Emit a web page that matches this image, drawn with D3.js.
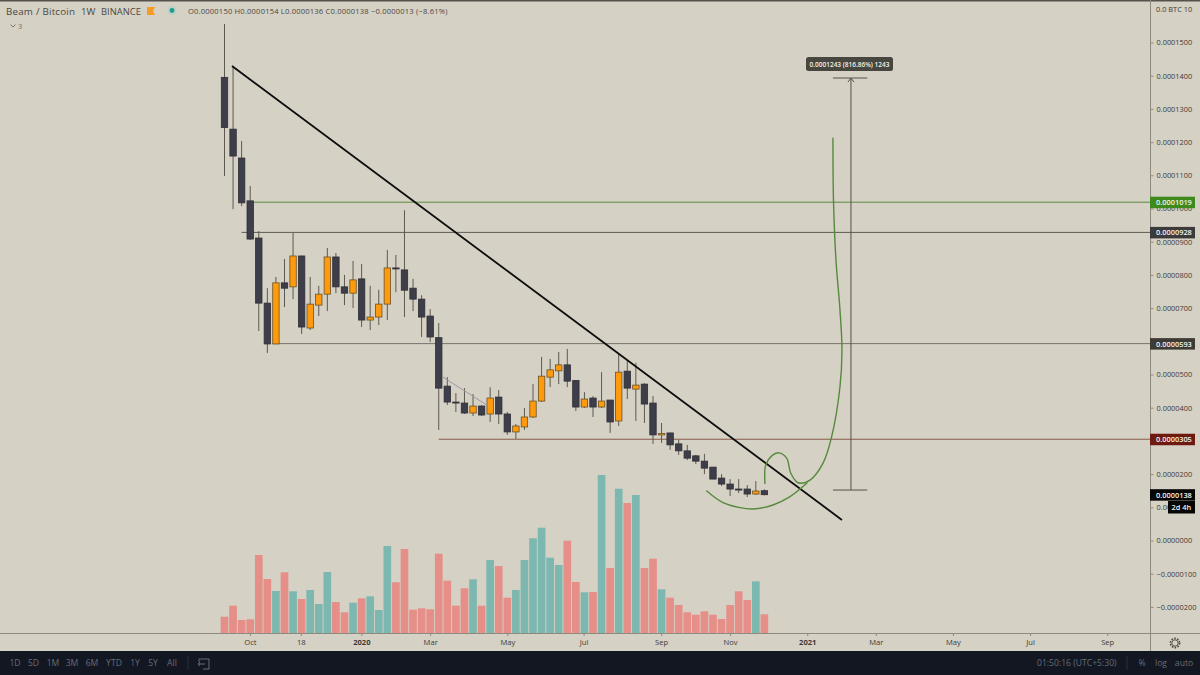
<!DOCTYPE html>
<html><head><meta charset="utf-8">
<script src="https://cdnjs.cloudflare.com/ajax/libs/d3/7.8.5/d3.min.js"></script>
<style>
html,body{margin:0;padding:0;background:#d6d1c5;overflow:hidden}
svg{display:block}
text{font-family:"Open Sans",Roboto,sans-serif}
</style></head><body><svg id="c" width="1200" height="675"></svg>
<script>
// Weekly candles, in units of 0.0000001 BTC
const opens  = [1395,1239,1152,1023,911,715,592,776,764,857,640,709,742,854,764,745,788,664,673,712,821,815,760,727,676,611,465,417,414,384,405,381,432,381,327,342,372,420,492,511,529,482,402,429,402,423,360,510,456,471,414,318,324,291,270,255,239,221,188,170,155,155,140,150];
const highs  = [1556,1429,1203,1068,932,760,794,848,926,858,794,767,881,866,800,842,833,767,755,875,860,995,788,739,697,655,492,444,459,441,408,462,453,387,351,399,471,553,547,568,577,483,447,435,507,423,562,541,535,474,435,354,324,303,288,258,261,221,200,185,185,167,179,154];
const lows   = [1098,998,1007,905,631,565,592,703,727,622,634,676,691,745,709,700,643,634,649,664,748,673,691,613,598,333,408,387,381,375,375,357,351,318,306,333,369,417,462,471,462,390,399,372,399,324,345,426,360,354,291,294,273,258,242,230,200,185,164,134,143,131,137,136];
const closes = [1244,1158,1017,908,715,592,776,760,857,643,712,742,854,764,745,785,664,673,712,821,818,754,727,673,613,459,417,414,384,405,378,429,381,327,345,372,420,495,514,529,480,402,426,402,420,357,507,459,468,411,318,322,288,270,248,239,218,185,170,155,153,140,149,138];
const volumes = [166,276,133,140,783,543,423,610,420,343,433,293,613,313,210,306,350,370,233,873,510,843,236,250,240,796,526,276,450,540,276,733,673,356,433,733,950,1056,756,683,926,513,410,413,1583,653,1446,1303,1383,653,746,440,356,283,210,186,220,186,143,283,420,333,520,190];
const volumeRising = [0,0,0,0,0,0,1,0,1,0,1,1,1,0,0,1,0,1,1,1,0,0,0,0,0,0,0,0,0,1,0,1,0,0,1,1,1,1,1,1,0,0,1,0,1,0,1,0,1,0,0,1,0,0,0,0,0,0,0,0,0,0,1,0];

const priceTicks = [1500,1400,1300,1200,1100,1000,900,800,700,600,500,400,300,200,100,0,-100,-200];
const timeTickWeeks  = [2.97,8.9,15.97,24,33,41.9,50.95,59,68,76,85,94,103];
const timeTickLabels = ["Oct","18","2020","Mar","May","Jul","Sep","Nov","2021","Mar","May","Jul","Sep"];
const boldTimeLabels = ["2020","2021"];

const trendWeeks = [0.875,72.05];
const trendValues = [1429,62];
const faintWeeks = [25.5,30.6];
const faintValues = [492,408];
const levelValues = [1019,928,593,305];
const levelStarts = [3.3,2,5.6,25];
const levelColors = ["#5b8a3c","#5f5a52","#77736a","#8a5a48"];
const levelBoxes  = ["#3f8a1d","#3b3b3b","#3e3b36","#6e1a10"];
const curveAWeeks = [56.27,58.17,60.15,61.67,64.0,65.99,67.97];
const curveAValues = [149,114,99,95,107,132,173];
const curveBWeeks = [63.07,63.15,63.85,64.7,65.6,66.07,66.92,68.32,69.84,70.85,71.82,72.05,71.82,71.35,71.06,71.0];
const curveBValues = [172,227,255,264,248,203,174,182,233,313,463,574,694,845,1026,1212];
const measureWeek = 73.1, measureCapWeeks = [71,75], measureFrom = 152, measureTo = 1393;
const headerText = "O0.0000150 H0.0000154 L0.0000136 C0.0000138 −0.0000013 (−8.61%)";
const rangeButtons = ["1D","5D","1M","3M","6M","YTD","1Y","5Y","All"];
const rangeButtonX = [15,33.5,53,72,92,114,135,153,172];

const svg = d3.select("#c");
const bg = "#d6d1c5", axisCol = "#8f8a80";
svg.append("rect").attr("width",1200).attr("height",675).attr("fill",bg);
svg.append("rect").attr("width",1200).attr("height",1.5).attr("fill","#55524c");

const x = d3.scaleLinear().domain([0,63]).range([224.5,764.4]);
const y = d3.scaleLinear().domain([0,1500]).range([540.5,42.5]);
const volY = d3.scaleLinear().domain([0,1600]).range([633.3,473.3]);
const step = x(1)-x(0);
const idx = d3.range(opens.length);
const line = d3.line().x(d=>x(d[0])).y(d=>y(d[1]));
const smooth = d3.line().x(d=>x(d[0])).y(d=>y(d[1])).curve(d3.curveCatmullRom);

// volume
svg.append("g").selectAll("rect").data(idx).join("rect")
  .attr("x",i=>x(i)-step/2+0.45).attr("width",step-0.9)
  .attr("y",i=>volY(volumes[i])).attr("height",i=>volY(0)-volY(volumes[i]))
  .attr("fill",i=>volumeRising[i]?"#7db8b0":"#e58f88");

// axis frame
svg.append("line").attr("x1",0).attr("x2",1200).attr("y1",633.5).attr("y2",633.5).attr("stroke",axisCol);
svg.append("line").attr("x1",1150.5).attr("x2",1150.5).attr("y1",0).attr("y2",651).attr("stroke",axisCol);

// horizontal levels
levelValues.forEach((v,i)=>{
  svg.append("path").attr("d",line([[levelStarts[i],v],[x.invert(1150),v]]))
    .attr("fill","none").attr("stroke",levelColors[i]).attr("stroke-width",1);
});

// candles
const g = svg.append("g");
g.selectAll("line").data(idx).join("line")
  .attr("x1",i=>x(i)).attr("x2",i=>x(i))
  .attr("y1",i=>y(highs[i])).attr("y2",i=>y(lows[i]))
  .attr("stroke","#5d594f").attr("stroke-width",1);
g.selectAll("rect").data(idx).join("rect")
  .attr("x",i=>x(i)-3.2).attr("width",6.4)
  .attr("y",i=>y(Math.max(opens[i],closes[i])))
  .attr("height",i=>Math.max(1,Math.abs(y(opens[i])-y(closes[i]))))
  .attr("fill",i=>closes[i]>opens[i]?"#ff9a0d":"#3e3e4a")
  .attr("stroke",i=>closes[i]>opens[i]?"#6b5224":"#2e2e36").attr("stroke-width",0.8);

// drawings
svg.append("path").attr("d",line(d3.zip(faintWeeks,faintValues))).attr("fill","none").attr("stroke","#9d95a8").attr("stroke-width",1);
svg.append("path").attr("d",line(d3.zip(trendWeeks,trendValues))).attr("fill","none").attr("stroke","#0c0c0c").attr("stroke-width",1.8);
[[curveAWeeks,curveAValues],[curveBWeeks,curveBValues]].forEach(c=>{
  svg.append("path").attr("d",smooth(d3.zip(c[0],c[1]))).attr("fill","none").attr("stroke","#558a3c").attr("stroke-width",1.4).attr("stroke-linecap","round");
});
const mCol = "#55524c";
svg.append("path").attr("d",line([[measureWeek,measureFrom],[measureWeek,measureTo]])).attr("fill","none").attr("stroke",mCol);
[measureFrom,measureTo].forEach(v=>svg.append("path").attr("d",line([[measureCapWeeks[0],v],[measureCapWeeks[1],v]])).attr("fill","none").attr("stroke",mCol));
svg.append("path").attr("d",`M${x(measureWeek)-3},${y(measureTo)+4}L${x(measureWeek)},${y(measureTo)}L${x(measureWeek)+3},${y(measureTo)+4}`).attr("fill","none").attr("stroke",mCol);
svg.append("rect").attr("x",806).attr("y",57).attr("width",87).attr("height",14).attr("rx",2.5).attr("fill","#48473f");
svg.append("text").attr("x",849.5).attr("y",66.5).attr("text-anchor","middle").attr("fill","#f3f1ea").attr("font-size",6.5).attr("font-weight",600).text("0.0001243 (816.86%) 1243");

// price axis
const fmt = v => (v<0?"−":"")+"0."+String(Math.abs(v)).padStart(7,"0");
const ya = d3.axisRight(y).tickValues(priceTicks).tickFormat(fmt).tickSize(3).tickPadding(3);
const yg = svg.append("g").attr("transform","translate(1150.5,0)").call(ya);
yg.select(".domain").remove();
yg.selectAll("line").attr("stroke",axisCol);
yg.selectAll("text").attr("fill","#3c3a36").attr("font-size",7.4).style("font-family",'"Open Sans",sans-serif');
svg.append("text").attr("x",1156).attr("y",12).attr("fill","#3c3a36").attr("font-size",7.4).text("0.0 BTC  10");

// time axis
const xa = d3.axisBottom(x).tickValues(timeTickWeeks).tickFormat((d,i)=>timeTickLabels[i]).tickSize(2.5).tickPadding(4);
const xg = svg.append("g").attr("transform","translate(0,633.5)").call(xa);
xg.select(".domain").remove();
xg.selectAll("line").attr("stroke",axisCol);
xg.selectAll("text").attr("fill","#3c3a36").attr("font-size",7.6).style("font-family",'"Open Sans",sans-serif')
  .attr("font-weight",(d,i)=>boldTimeLabels.includes(timeTickLabels[i])?700:400);

// price labels
function priceBox(v,col){
  svg.append("rect").attr("x",1150).attr("y",y(v)-5.5).attr("width",45).attr("height",11.5).attr("fill",col);
  svg.append("text").attr("x",1156).attr("y",y(v)+3).attr("fill","#f4f2ec").attr("font-size",7.4).attr("font-weight",600).text(fmt(v));
}
levelValues.forEach((v,i)=>priceBox(v,levelBoxes[i]));
priceBox(closes[closes.length-1],"#060606");
svg.append("rect").attr("x",1168).attr("y",501).attr("width",27).attr("height",12.5).attr("fill","#060606");
svg.append("text").attr("x",1171.5).attr("y",510).attr("fill","#f4f2ec").attr("font-size",7.4).attr("font-weight",600).text("2d 4h");

// gear
const gear = svg.append("g").attr("transform","translate(1175,643)");
gear.append("circle").attr("r",4.6).attr("fill","none").attr("stroke","#4a4741").attr("stroke-width",1.6).attr("stroke-dasharray","1.6 1.3");
gear.append("circle").attr("r",3.2).attr("fill",bg).attr("stroke","#4a4741").attr("stroke-width",0.9);

// header
const hc = "#4a4843";
const h = svg.append("g").attr("fill",hc);
h.append("text").attr("x",6).attr("y",14.5).attr("font-size",9.8).attr("letter-spacing",0.2).text("Beam / Bitcoin");
h.append("text").attr("x",81).attr("y",14.5).attr("font-size",9.6).text("1W");
h.append("text").attr("x",101).attr("y",14.5).attr("font-size",9.4).text("BINANCE");
svg.append("path").attr("d","M147,7H155L153,11L155,15H147Z").attr("fill","#f59b24");
svg.append("circle").attr("cx",172).attr("cy",10.5).attr("r",4.5).attr("fill","#bcd0c6");
svg.append("circle").attr("cx",172).attr("cy",10.5).attr("r",2.4).attr("fill","#1f9d8c");
h.append("text").attr("x",188).attr("y",14).attr("font-size",7.6).attr("letter-spacing",0.18).text(headerText);
svg.append("path").attr("d","M10.5,24.5L13,27L15.5,24.5").attr("fill","none").attr("stroke","#77736a");
h.append("text").attr("x",18).attr("y",29).attr("font-size",7.5).attr("fill","#77736a").text("3");

// bottom toolbar
svg.append("rect").attr("y",651).attr("width",1200).attr("height",24).attr("fill","#131722");
const tc = "#666c78";
const b = svg.append("g").attr("fill",tc).attr("font-size",8.6);
rangeButtons.forEach((t,i)=>b.append("text").attr("x",rangeButtonX[i]).attr("y",666).attr("text-anchor","middle").text(t));
svg.append("line").attr("x1",188).attr("x2",188).attr("y1",656).attr("y2",670).attr("stroke","#2a2e39");
svg.append("path").attr("d","M199,659H209V669H203M199,659V662M198,664H205M198,664L200,662M198,664L200,666").attr("fill","none").attr("stroke",tc);
b.append("text").attr("x",1037).attr("y",666).text("01:50:16 (UTC+5:30)");
svg.append("line").attr("x1",1127).attr("x2",1127).attr("y1",656).attr("y2",670).attr("stroke","#2a2e39");
b.append("text").attr("x",1142).attr("y",666).attr("text-anchor","middle").text("%");
b.append("text").attr("x",1161).attr("y",666).attr("text-anchor","middle").text("log");
b.append("text").attr("x",1184).attr("y",666).attr("text-anchor","middle").text("auto");
</script></body></html>
